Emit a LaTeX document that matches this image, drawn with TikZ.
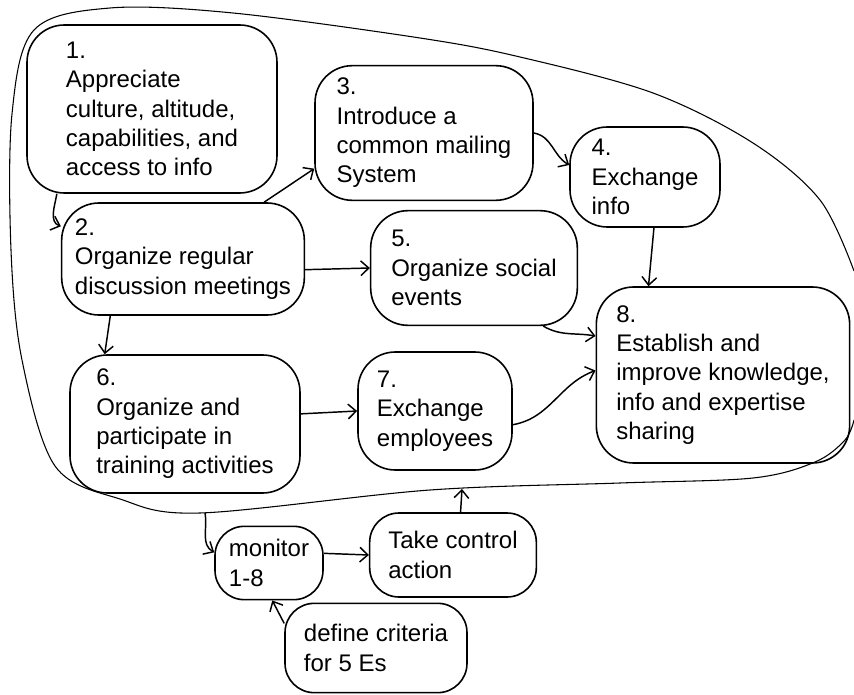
\documentclass[tikz,border=0pt]{standalone}
\usepackage{fontspec}
\setmainfont{Liberation Sans}
\usetikzlibrary{arrows.meta}

\begin{document}
\begin{tikzpicture}[x=0.75pt,y=0.75pt,
        blob/.style={draw,line width=1.2pt,rounded corners=28pt,align=left,inner sep=2pt,font=\fontsize{18}{22}\selectfont},
        smallblob/.style={blob,rounded corners=22pt},
        link/.style={-{Straight Barb[length=6pt,width=11pt]},line width=1.1pt}]
                \useasboundingbox (0,0) rectangle (854,694);
                \draw [line width=0.8pt] plot [smooth,tension=0.55] coordinates {(854,423) (820,494) (753,551) (653,601) (520,637) (420,656) (233,681) (110,686) (34,664) (12,580) (11,444) (22,334) (55,228) (120,195) (200,181) (430,204) (620,211) (753,216) (815,232) (845,254) (854,274)};
                \coordinate (loopA) at (205,181);
                \coordinate (loopB) at (462,205);
                \node [blob,minimum width=187.5pt,minimum height=126pt] (n1) at (152,585) {1.\\Appreciate\\culture, altitude,\\capabilities, and\\access to info};
                \node [blob,minimum width=182pt,minimum height=84pt] (n2) at (183,435) {2.\\Organize regular\\discussion meetings};
                \node [blob,minimum width=163.5pt,minimum height=101pt] (n3) at (424,561) {3.\\Introduce a\\common mailing\\System};
                \node [blob,minimum width=112.5pt,minimum height=75pt] (n4) at (645,517) {4.\\Exchange\\info};
                \node [blob,minimum width=155pt,minimum height=86pt] (n5) at (474,426) {5.\\Organize social\\events};
                \node [blob,minimum width=172.5pt,minimum height=103.5pt] (n6) at (185,270) {6.\\Organize and\\participate in\\training activities};
                \node [blob,minimum width=115.5pt,minimum height=88.5pt] (n7) at (435,283) {7.\\Exchange\\employees};
                \node [blob,minimum width=190pt,minimum height=132pt] (n8) at (723,319) {8.\\Establish and\\improve knowledge,\\info and expertise\\sharing};
                \node [smallblob,minimum width=81pt,minimum height=55pt] (monitor) at (269,131) {monitor\\ 1-8};
                \node [smallblob,minimum width=125pt,minimum height=63pt] (control) at (453,139) {Take control\\action};
                \node [smallblob,minimum width=136.5pt,minimum height=67pt] (criteria) at (376,46) {define criteria\\for 5 Es};
                \draw [link] ([xshift=23pt]n1.south west) to [out=-100,in=160] (n2.165);
                \draw [link] (n2.35) -- (n3.198);
                \draw [link] (n2.-5) -- (n5.west);
                \draw [link] (n2.218) -- (n6.139);
                \draw [link] (n3.east) to [out=-10,in=150] (n4.171);
                \draw [link] (n4.-80) -- (n8.130);
                \draw [link] (n5.-40) to [out=-30,in=170] (n8.163);
                \draw [link] (n6.5) -- (n7.west);
                \draw [link] (n7.-10) to [out=10,in=200] (n8.178);
                \draw [link] (loopA) to [out=-80,in=150] (monitor.169);
                \draw [link] (monitor.10) -- (control.west);
                \draw [link] (control.80) -- (loopB);
                \draw [link] (criteria.165) -- (monitor.-85);
\end{tikzpicture}
\end{document}
